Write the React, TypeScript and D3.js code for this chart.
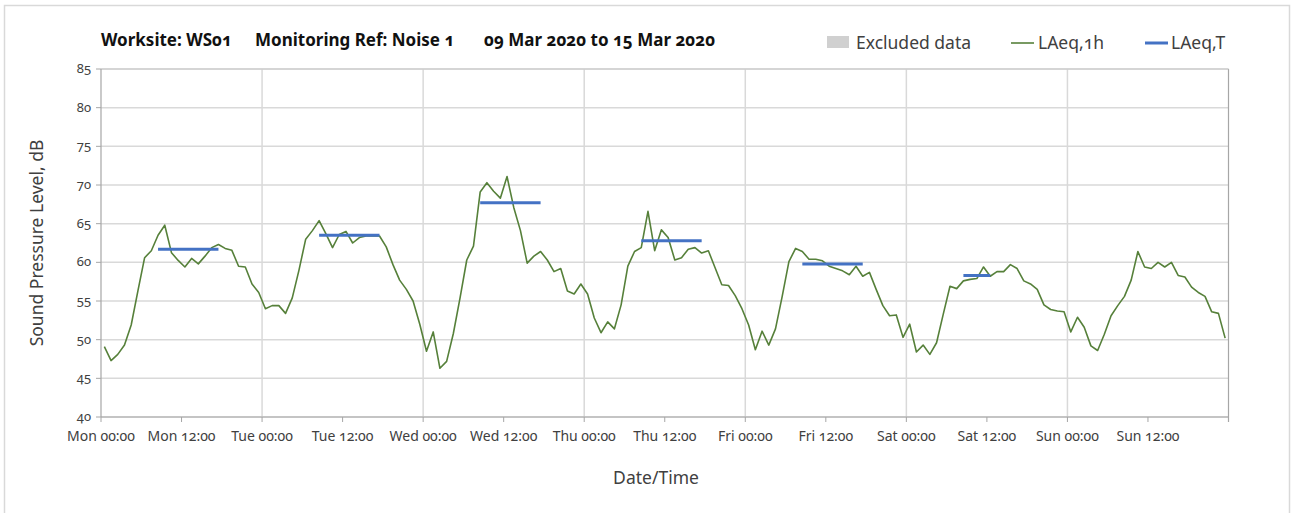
import React from "react";
import * as d3 from "d3";

const laeq1h: number[] = [
  // Mon
  49.1, 47.3, 48.1, 49.3, 51.9, 56.3, 60.6, 61.5, 63.5, 64.8, 61.25, 60.25,
  59.4, 60.5, 59.8, 60.8, 61.9, 62.3, 61.8, 61.55, 59.5, 59.4, 57.2, 56.1,
  // Tue
  54.0, 54.4, 54.4, 53.4, 55.4, 59.0, 63.0, 64.1, 65.4, 63.7, 61.9, 63.6,
  64.0, 62.5, 63.2, 63.4, 63.4, 63.4, 62.0, 59.7, 57.7, 56.5, 55.0, 52.0,
  // Wed
  48.5, 51.0, 46.3, 47.2, 50.8, 55.4, 60.3, 62.1, 69.1, 70.3, 69.2, 68.3,
  71.1, 67.1, 64.1, 59.9, 60.8, 61.4, 60.3, 58.8, 59.2, 56.3, 55.9, 57.2,
  // Thu
  55.9, 52.8, 50.9, 52.3, 51.4, 54.5, 59.5, 61.4, 61.9, 66.6, 61.5, 64.2,
  63.2, 60.3, 60.6, 61.7, 61.9, 61.2, 61.5, 59.3, 57.1, 57.0, 55.7, 54.0,
  // Fri
  51.9, 48.7, 51.1, 49.3, 51.4, 55.6, 60.1, 61.8, 61.4, 60.4, 60.4, 60.2,
  59.5, 59.2, 58.9, 58.4, 59.5, 58.2, 58.7, 56.5, 54.4, 53.1, 53.2, 50.3,
  // Sat
  52.0, 48.4, 49.3, 48.1, 49.6, 53.3, 56.9, 56.6, 57.6, 57.8, 57.9, 59.4,
  58.2, 58.8, 58.8, 59.7, 59.2, 57.6, 57.2, 56.5, 54.5, 53.9, 53.7, 53.6,
  // Sun
  51.0, 52.9, 51.6, 49.2, 48.6, 50.7, 53.1, 54.4, 55.6, 57.7, 61.4, 59.4,
  59.2, 60.0, 59.4, 60.0, 58.3, 58.1, 56.8, 56.1, 55.6, 53.6, 53.4, 50.2,
];

// LAeq,T assessment periods (hours from Mon 00:00)
const ltStart: number[] = [8.5, 32.5, 56.5, 80.5, 104.5, 128.5];
const ltEnd: number[] = [17.5, 41.5, 65.5, 89.5, 113.5, 132.5];
const ltValue: number[] = [61.7, 63.5, 67.7, 62.8, 59.8, 58.3];

const xTickHours: number[] = [0, 12, 24, 36, 48, 60, 72, 84, 96, 108, 120, 132, 144, 156, 168];
const xTickLabels: string[] = [
  "Mon 00:00", "Mon 12:00", "Tue 00:00", "Tue 12:00", "Wed 00:00", "Wed 12:00",
  "Thu 00:00", "Thu 12:00", "Fri 00:00", "Fri 12:00", "Sat 00:00", "Sat 12:00",
  "Sun 00:00", "Sun 12:00", "",
];
const dayGridHours: number[] = [24, 48, 72, 96, 120, 144];
const yTicks: number[] = [40, 45, 50, 55, 60, 65, 70, 75, 80, 85];

const FONT = "'Noto Sans', 'Open Sans', sans-serif";
const TEXT = "#404040";

export default function App() {
  const W = 1291, H = 513;
  const left = 101, right = 1228.5, top = 69, bottom = 417;
  const x = d3.scaleLinear().domain([0, 168]).range([left, right]);
  const y = d3.scaleLinear().domain([40, 85]).range([bottom, top]);

  const line = d3
    .line<number>()
    .x((_, i) => x(i + 0.5))
    .y((d) => y(d));

  const numStyle: React.CSSProperties = { fontVariantNumeric: "oldstyle-nums" };

  return (
    <svg width={W} height={H} style={{ position: "absolute", left: 0, top: 0, fontFamily: FONT }}>
      <rect x={0} y={0} width={W} height={H} fill="#fff" />
      <rect x={4.5} y={5.5} width={1285} height={520} fill="none" stroke="#d9d9d9" strokeWidth={1.5} />

      {/* horizontal grid */}
      {yTicks.map((t) => (
        <line key={"hg" + t} x1={left} x2={right} y1={y(t)} y2={y(t)} stroke="#d9d9d9" strokeWidth={1.5} />
      ))}
      {/* vertical grid */}
      {dayGridHours.map((h) => (
        <line key={"vg" + h} x1={x(h)} x2={x(h)} y1={top} y2={bottom} stroke="#d9d9d9" strokeWidth={1.5} />
      ))}
      {/* plot border right/top */}
      <line x1={right} x2={right} y1={top} y2={bottom + 5} stroke="#a6a6a6" strokeWidth={1.2} />
      <line x1={left} x2={right} y1={top} y2={top} stroke="#c8c8c8" strokeWidth={1.2} />

      {/* axes */}
      <line x1={left} x2={left} y1={top} y2={bottom} stroke="#a6a6a6" strokeWidth={1.2} />
      <line x1={left} x2={right} y1={bottom} y2={bottom} stroke="#a6a6a6" strokeWidth={1.2} />
      {yTicks.map((t) => (
        <g key={"yt" + t}>
          <line x1={left - 5} x2={left} y1={y(t)} y2={y(t)} stroke="#a6a6a6" strokeWidth={1} />
          <text x={left - 10} y={y(t)} dy="0.32em" textAnchor="end" fontSize={13} fill={TEXT} style={numStyle}>
            {t}
          </text>
        </g>
      ))}
      {xTickHours.map((h, i) => (
        <g key={"xt" + h}>
          <line x1={x(h)} x2={x(h)} y1={bottom} y2={bottom + 5} stroke="#a6a6a6" strokeWidth={1} />
          <text x={x(h)} y={bottom + 24} textAnchor="middle" fontSize={14} fill={TEXT} style={numStyle}>
            {xTickLabels[i]}
          </text>
        </g>
      ))}

      {/* data */}
      <path d={line(laeq1h) || ""} fill="none" stroke="#56803a" strokeWidth={1.6} strokeLinejoin="round" />
      {ltValue.map((v, i) => (
        <line key={"lt" + i} x1={x(ltStart[i])} x2={x(ltEnd[i])} y1={y(v)} y2={y(v)} stroke="#4472c4" strokeWidth={3} />
      ))}

      {/* axis titles */}
      <text x={656} y={484} textAnchor="middle" fontSize={17.5} fill={TEXT}>Date/Time</text>
      <text transform={`translate(43,243) rotate(-90)`} textAnchor="middle" fontSize={17.5} fill={TEXT}>
        Sound Pressure Level, dB
      </text>

      {/* title */}
      <g fontWeight="bold" fontSize={17} fill="#111" style={numStyle}>
        <text x={101} y={46}>Worksite: WS01</text>
        <text x={255} y={46}>Monitoring Ref: Noise 1</text>
        <text x={484} y={46}>09 Mar 2020 to 15 Mar 2020</text>
      </g>

      {/* legend */}
      <g fontSize={17.5} fill={TEXT} style={numStyle}>
        <rect x={827} y={36} width={22} height={12} fill="#d0d0d0" />
        <text x={856} y={49}>Excluded data</text>
        <line x1={1011} x2={1034} y1={43} y2={43} stroke="#56803a" strokeWidth={1.6} />
        <text x={1038} y={49}>LAeq,1h</text>
        <line x1={1145} x2={1168} y1={43} y2={43} stroke="#4472c4" strokeWidth={3} />
        <text x={1171} y={49}>LAeq,T</text>
      </g>
    </svg>
  );
}
